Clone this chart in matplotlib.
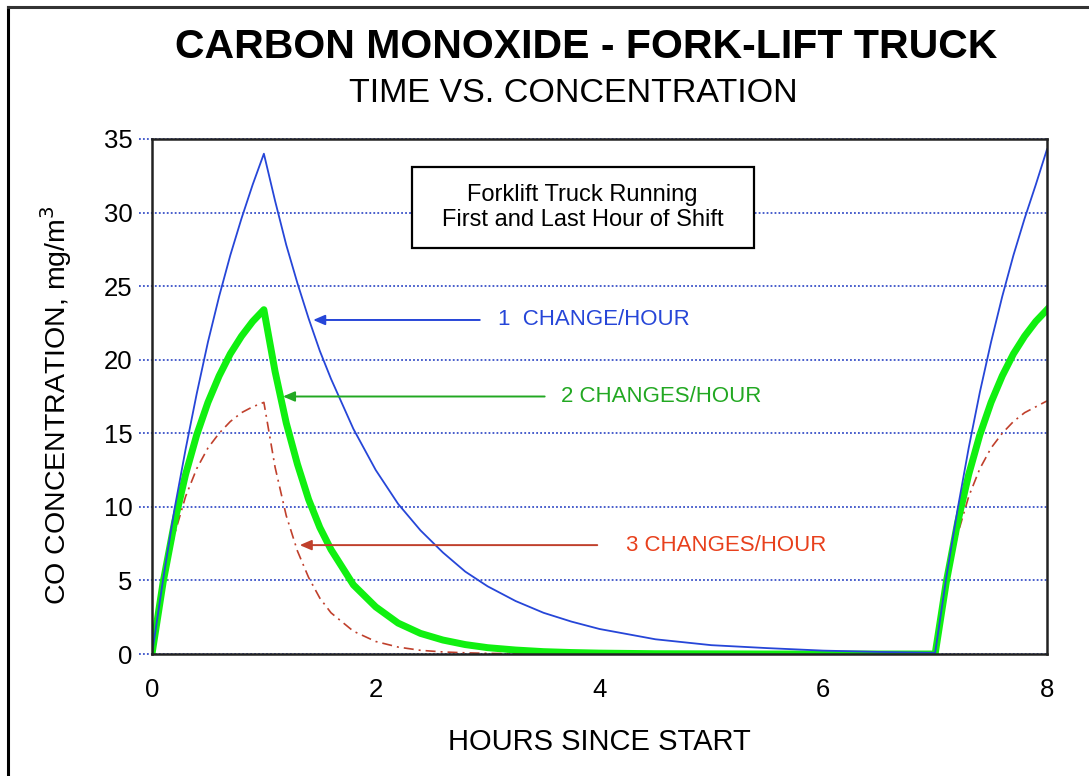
import matplotlib
matplotlib.use("Agg")
import matplotlib.pyplot as plt
from matplotlib.lines import Line2D
from matplotlib.patches import Rectangle

# ---- data ----
hours = [0.0, 0.1, 0.2, 0.3, 0.4, 0.5, 0.6, 0.7, 0.8, 0.9, 1.0,
         1.1, 1.2, 1.3, 1.4, 1.5, 1.6, 1.8, 2.0, 2.2, 2.4, 2.6, 2.8, 3.0,
         3.25, 3.5, 3.75, 4.0, 4.5, 5.0, 5.5, 6.0, 6.5, 7.0,
         7.1, 7.2, 7.3, 7.4, 7.5, 7.6, 7.7, 7.8, 7.9, 8.0]

one_change = [0.0, 5.1, 9.8, 13.9, 17.7, 21.2, 24.3, 27.1, 29.6, 31.9, 34.0,
              30.8, 27.8, 25.2, 22.8, 20.6, 18.7, 15.3, 12.5, 10.2, 8.4, 6.9, 5.6, 4.6,
              3.6, 2.8, 2.2, 1.7, 1.0, 0.6, 0.4, 0.23, 0.14, 0.08,
              5.2, 9.8, 14.0, 17.8, 21.2, 24.3, 27.1, 29.6, 31.9, 34.3]

two_changes = [0.0, 4.9, 8.9, 12.2, 14.9, 17.1, 18.9, 20.4, 21.6, 22.6, 23.4,
               19.2, 15.7, 12.9, 10.5, 8.6, 7.1, 4.7, 3.2, 2.1, 1.4, 0.95, 0.64, 0.43,
               0.27, 0.16, 0.1, 0.06, 0.02, 0.01, 0.0, 0.0, 0.0, 0.0,
               4.9, 8.9, 12.2, 14.9, 17.1, 18.9, 20.4, 21.6, 22.6, 23.4]

three_changes = [0.0, 4.7, 8.1, 10.7, 12.6, 14.0, 15.0, 15.8, 16.4, 16.8, 17.1,
                 12.7, 9.4, 7.0, 5.2, 3.8, 2.8, 1.55, 0.85, 0.47, 0.25, 0.14, 0.08, 0.04,
                 0.02, 0.01, 0.0, 0.0, 0.0, 0.0, 0.0, 0.0, 0.0, 0.0,
                 4.7, 8.1, 10.7, 12.6, 14.0, 15.0, 15.8, 16.4, 16.8, 17.2]

x_ticks = [0, 2, 4, 6, 8]
y_ticks = [0, 5, 10, 15, 20, 25, 30, 35]

title = "CARBON MONOXIDE - FORK-LIFT TRUCK"
subtitle = "TIME VS. CONCENTRATION"
box_text = "Forklift Truck Running\nFirst and Last Hour of Shift"
labels = ["1  CHANGE/HOUR", "2 CHANGES/HOUR", "3 CHANGES/HOUR"]

# ---- style ----
FONT = ["Liberation Sans", "DejaVu Sans"]
BLUE = "#2646d8"
GRID = "#3a52c8"
LIME = "#10f010"
GREEN_TXT = "#22a822"
RED_LINE = "#c0402c"
RED_TXT = "#e8401c"

plt.rcParams["font.family"] = FONT

fig = plt.figure(figsize=(10.89, 7.76), dpi=100)
ax = fig.add_axes([152 / 1089, 1 - 654 / 776, (1047 - 152) / 1089, (654 - 139) / 776])

# gridlines (with short stubs left of the axis)
ax.hlines(y_ticks, -0.014, 1, transform=ax.get_yaxis_transform(), clip_on=False,
          colors=GRID, linestyles=(0, (1, 1.2)), linewidth=1.3, zorder=1)

ax.plot(hours, three_changes, color=RED_LINE, lw=1.2, ls=(0, (6, 3, 1.2, 3)), zorder=3)
ax.plot(hours, two_changes, color=LIME, lw=5.0, zorder=4, solid_joinstyle="round")
ax.plot(hours, one_change, color=BLUE, lw=1.3, zorder=5)

ax.set_xlim(0, 8)
ax.set_ylim(0, 35)
ax.set_xticks(x_ticks)
ax.set_yticks(y_ticks)
ax.tick_params(axis="both", length=0, labelsize=18.5)
ax.tick_params(axis="x", pad=17)
ax.tick_params(axis="y", pad=14)
for s in ax.spines.values():
    s.set_linewidth(1.8)
    s.set_color("#222222")
    s.set_zorder(6)

ax.set_xlabel("HOURS SINCE START", fontsize=21)
ax.xaxis.set_label_coords(0.5, -0.143)
ax.set_ylabel("CO CONCENTRATION, mg/m$^3$", fontsize=20.5)
ax.yaxis.set_label_coords(-0.087, 0.483)

# annotation arrows
arrow_specs = [
    (labels[0], 1.44, 2.93, 3.09, 22.7, BLUE, BLUE),
    (labels[1], 1.17, 3.51, 3.66, 17.5, GREEN_TXT, GREEN_TXT),
    (labels[2], 1.32, 3.98, 4.24, 7.4, RED_LINE, RED_TXT),
]
for text, tip, tail, lx, y, lc, tc in arrow_specs:
    ax.annotate("", xy=(tip, y), xytext=(tail, y),
                arrowprops=dict(arrowstyle="-|>,head_length=0.7,head_width=0.3",
                                color=lc, lw=1.4, shrinkA=0, shrinkB=0),
                zorder=7)
    ax.text(lx, y, text, color=tc, fontsize=16, va="center", ha="left", zorder=7)

# text box
ax.add_patch(Rectangle((2.32, 27.6), 3.06, 5.5, fc="white", ec="black", lw=1.6, zorder=6.5))
ax.text(3.85, 30.35, box_text, ha="center", va="center", fontsize=17,
        linespacing=1.2, zorder=7)

# titles
fig.text(586 / 1089, 1 - 47 / 776, title, ha="center", va="center",
         fontsize=29.5, fontweight="bold")
fig.text(573 / 1089, 1 - 93 / 776, subtitle, ha="center", va="center",
         fontsize=24.5)

# outer frame (left and top edges visible)
fig.add_artist(Line2D([8 / 1089, 8 / 1089], [0, 1 - 7 / 776], transform=fig.transFigure,
                      color="black", lw=2.2))
fig.add_artist(Line2D([8 / 1089, 1], [1 - 7 / 776, 1 - 7 / 776], transform=fig.transFigure,
                      color="#333333", lw=2.2))

fig.savefig("out.png", dpi=100, facecolor="white")
